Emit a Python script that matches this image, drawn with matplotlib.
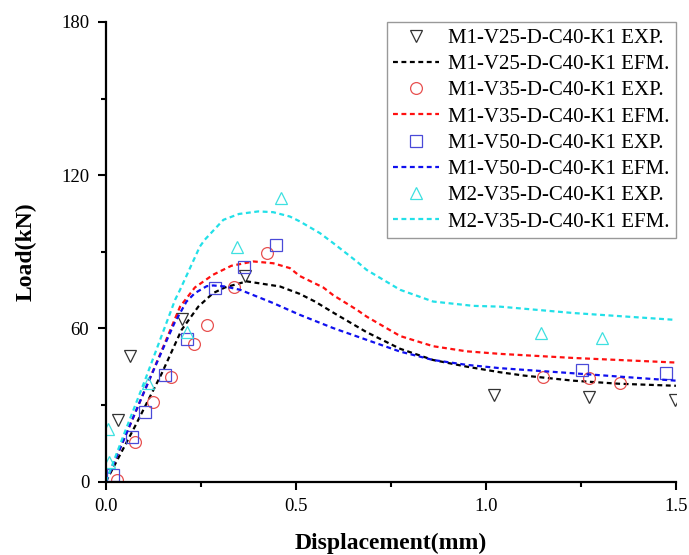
import numpy as np
import matplotlib.pyplot as plt

plt.rcParams['font.family'] = ['Liberation Serif', 'DejaVu Serif']

# Experimental points
x_v25_exp = [0.032, 0.063, 0.20, 0.366, 1.02, 1.27, 1.497]
y_v25_exp = [24.0, 49.2, 63.6, 80.6, 34.0, 33.0, 32.0]

x_v35_exp = [0.028, 0.076, 0.125, 0.171, 0.231, 0.267, 0.338, 0.423, 1.149, 1.272, 1.353]
y_v35_exp = [0.6, 15.6, 31.0, 40.8, 53.7, 61.5, 76.1, 89.7, 41.1, 40.5, 38.5]

x_v50_exp = [0.019, 0.068, 0.103, 0.155, 0.213, 0.287, 0.364, 0.447, 1.253, 1.473]
y_v50_exp = [2.5, 17.6, 27.1, 41.8, 55.9, 75.8, 84.2, 92.5, 43.5, 42.4]

x_m2_exp = [0.006, 0.008, 0.111, 0.214, 0.344, 0.461, 1.145, 1.306]
y_m2_exp = [20.5, 7.8, 38.5, 58.5, 91.8, 111.0, 58.1, 56.1]

# EFM curves
x_v25_efm = [0, 0.076, 0.147, 0.199, 0.243, 0.282, 0.313, 0.37, 0.458, 0.51, 0.55,
             0.60, 0.686, 0.774, 0.861, 0.949, 1.037, 1.10, 1.23, 1.35, 1.5]
y_v25_efm = [0, 21.5, 42.4, 59.4, 68.5, 73.8, 76.0, 78.4, 76.4, 73.5, 70.5,
             66.0, 58.5, 52.0, 47.6, 45.0, 42.8, 41.5, 39.5, 38.3, 37.5]

x_v35_efm = [0, 0.05, 0.10, 0.15, 0.195, 0.234, 0.282, 0.33, 0.388, 0.44, 0.484,
             0.51, 0.572, 0.598, 0.66, 0.686, 0.774, 0.861, 0.949, 1.037, 1.23, 1.5]
y_v35_efm = [0, 17.5, 35.0, 52.5, 68.5, 76.0, 81.0, 84.5, 86.2, 85.5, 83.6,
             80.5, 76.0, 73.0, 67.3, 64.6, 57.0, 53.0, 51.0, 50.0, 48.4, 46.6]

x_v50_efm = [0, 0.05, 0.10, 0.15, 0.18, 0.212, 0.234, 0.265, 0.282, 0.313, 0.353,
             0.44, 0.51, 0.598, 0.686, 0.774, 0.861, 0.949, 1.037, 1.23, 1.5]
y_v50_efm = [0, 17.5, 35.0, 52.0, 62.0, 70.5, 73.8, 76.5, 76.8, 76.4, 75.1,
             69.9, 65.3, 60.1, 55.5, 50.9, 47.6, 45.7, 44.4, 42.4, 39.5]

x_m2_efm = [0, 0.05, 0.103, 0.15, 0.182, 0.195, 0.247, 0.26, 0.309, 0.35, 0.401,
            0.44, 0.484, 0.51, 0.563, 0.598, 0.66, 0.686, 0.774, 0.861, 0.967,
            1.037, 1.23, 1.5]
y_m2_efm = [0, 19.5, 39.8, 58.5, 71.2, 75.1, 92.0, 94.7, 102.5, 104.8, 105.8,
            105.5, 103.8, 101.9, 97.3, 93.4, 86.2, 82.9, 75.1, 70.5, 68.8,
            68.5, 66.0, 63.3]

labels = ['M1-V25-D-C40-K1 EXP.', 'M1-V25-D-C40-K1 EFM.',
          'M1-V35-D-C40-K1 EXP.', 'M1-V35-D-C40-K1 EFM.',
          'M1-V50-D-C40-K1 EXP.', 'M1-V50-D-C40-K1 EFM.',
          'M2-V35-D-C40-K1 EXP.', 'M2-V35-D-C40-K1 EFM.']

fig = plt.figure(figsize=(6.89, 5.55), dpi=100)
ax = fig.add_axes([0.1538, 0.1324, 0.8272, 0.828])

dash = (0, (2.2, 1.6))
mk = dict(linestyle='none', markerfacecolor='none', markersize=8.5, markeredgewidth=0.9)

ax.plot(x_v25_exp, y_v25_exp, marker='v', markeredgecolor='#333333', label=labels[0], **mk)
ax.plot(x_v25_efm, y_v25_efm, color='black', lw=1.6, ls=dash, label=labels[1])
ax.plot(x_v35_exp, y_v35_exp, marker='o', markeredgecolor='#e8504f', label=labels[2], **mk)
ax.plot(x_v35_efm, y_v35_efm, color='#ff1010', lw=1.6, ls=dash, label=labels[3])
ax.plot(x_v50_exp, y_v50_exp, marker='s', markeredgecolor='#4a4ad8', label=labels[4], **mk)
ax.plot(x_v50_efm, y_v50_efm, color='#1010ee', lw=1.6, ls=dash, label=labels[5])
ax.plot(x_m2_exp, y_m2_exp, marker='^', markeredgecolor='#3ee0e0', label=labels[6], **mk)
ax.plot(x_m2_efm, y_m2_efm, color='#22e0e8', lw=1.6, ls=dash, label=labels[7])

ax.set_xlim(0, 1.5)
ax.set_ylim(0, 180)
ax.set_xticks([0.0, 0.5, 1.0, 1.5])
ax.set_xticks([0.25, 0.75, 1.25], minor=True)
ax.set_yticks([0, 60, 120, 180])
ax.set_yticks([30, 90, 150], minor=True)
ax.set_xticklabels(['0.0', '0.5', '1.0', '1.5'])

for side in ['top', 'right']:
    ax.spines[side].set_visible(False)
for side in ['left', 'bottom']:
    ax.spines[side].set_linewidth(1.6)

ax.tick_params(which='major', direction='out', length=6, width=1.5, labelsize=13.5, pad=6)
ax.tick_params(which='minor', direction='out', length=3.5, width=1.5)

ax.set_xlabel('Displacement(mm)', fontsize=17, fontweight='bold', labelpad=13)
ax.set_ylabel('Load(kN)', fontsize=17, fontweight='bold', labelpad=18)

leg = ax.legend(loc='upper right', fontsize=15, frameon=True, fancybox=False,
                edgecolor='#808080', borderaxespad=0.0, borderpad=0.3,
                labelspacing=0.32, handlelength=2.2, handletextpad=0.45)
leg.get_frame().set_linewidth(1.0)

fig.savefig('out.png', dpi=100)
